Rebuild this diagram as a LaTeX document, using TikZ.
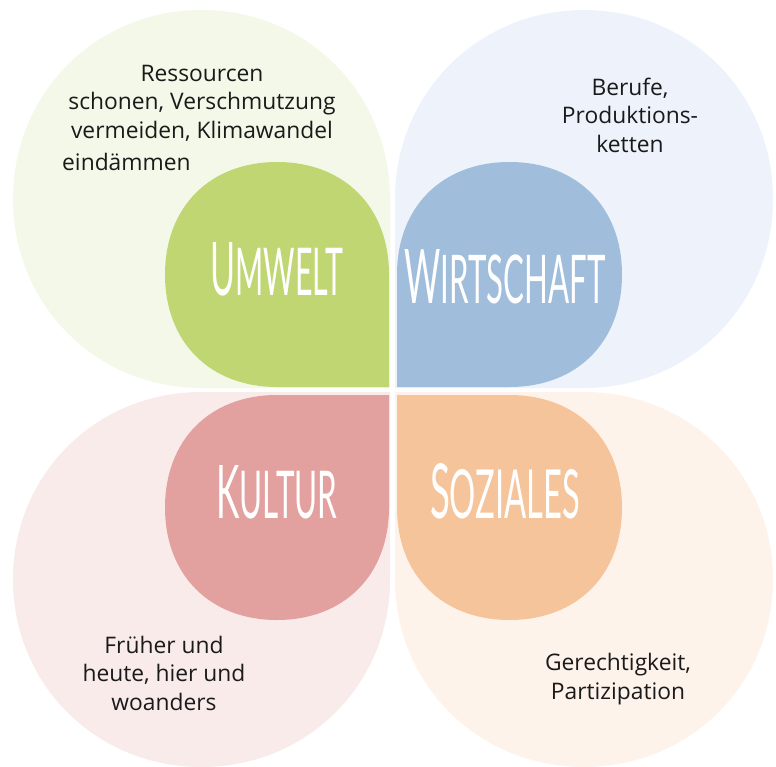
\documentclass[tikz,border=0pt]{standalone}
\usepackage{fontspec}
\setmainfont{Open Sans}
\newfontfamily\labelfont{Lato}
\usepackage{graphicx}
\definecolor{bgG}{HTML}{F4F8E9}
\definecolor{bgB}{HTML}{EDF2FB}
\definecolor{bgR}{HTML}{FAEBEB}
\definecolor{bgO}{HTML}{FEF3EA}
\definecolor{inG}{HTML}{BFD673}
\definecolor{inB}{HTML}{A0BDDC}
\definecolor{inR}{HTML}{E2A09F}
\definecolor{inO}{HTML}{F6C49A}
\definecolor{txt}{HTML}{1A1A1A}
% color, cx, cy, rx, ry, sx, sy, k
\newcommand{\drawpetal}[8]{%
 \begin{scope}[shift={(#2,#3)}, xscale=#6*#4, yscale=#7*#5]
 \fill[#1] (1,1) -- (0,1) .. controls (-#8,1) and (-1,#8) .. (-1,0)
   .. controls (-1,-#8) and (-#8,-1) .. (0,-1)
   .. controls (#8,-1) and (1,-#8) .. (1,0) -- cycle;
 \end{scope}}
\newcommand{\lbl}[4]{\resizebox{#3pt}{#4pt}{\labelfont\fontsize{74}{74}\selectfont #1\fontsize{66}{66}\selectfont #2}}
\begin{document}
\begin{tikzpicture}[x=1pt,y=-1pt,
  body/.style={inner sep=0pt, font=\fontsize{22.8}{28.5}\selectfont, text=txt, align=center, anchor=base},
  lab/.style={inner sep=0pt, text=white, anchor=base}]
\useasboundingbox (0,0) rectangle (776,766);
\fill[white] (0,0) rectangle (776,766);
\drawpetal{bgG}{201.5}{199}{188.5}{189}{1}{1}{0.56}
\drawpetal{bgB}{584}{199}{189}{189}{-1}{1}{0.56}
\drawpetal{bgR}{201.5}{579.5}{188.5}{187.5}{1}{-1}{0.56}
\drawpetal{bgO}{584}{579.5}{189}{187.5}{-1}{-1}{0.56}
\drawpetal{inG}{277}{274.5}{112}{112.5}{1}{1}{0.6}
\drawpetal{inB}{509.5}{274.5}{112.5}{112.5}{-1}{1}{0.6}
\drawpetal{inR}{277}{507.5}{112}{112.5}{1}{-1}{0.6}
\drawpetal{inO}{509.5}{507.5}{112.5}{112.5}{-1}{-1}{0.6}
\node[body] (tl) at (202,138) {Ressourcen\\schonen, Verschmutzung\\vermeiden, Klimawandel};
\node[body, anchor=base west] (tle) at (62,170) {eindämmen};
\node[body] (tr) at (630,152) {Berufe,\\Produktions-\\ketten};
\node[body] (bl) at (164,710) {Früher und\\heute, hier und\\woanders};
\node[body] (br) at (618,699) {Gerechtigkeit,\\Partizipation};
\node[lab] (lu) at (277,295) {\lbl{U}{MWELT}{133}{53}};
\node[lab] (lw) at (505,303) {\lbl{W}{IRTSCHAFT}{201}{54}};
\node[lab] (lk) at (277,518) {\lbl{K}{ULTUR}{121}{53}};
\node[lab] (ls) at (505,518) {\lbl{S}{OZIALES}{150}{55}};
\end{tikzpicture}
\end{document}
